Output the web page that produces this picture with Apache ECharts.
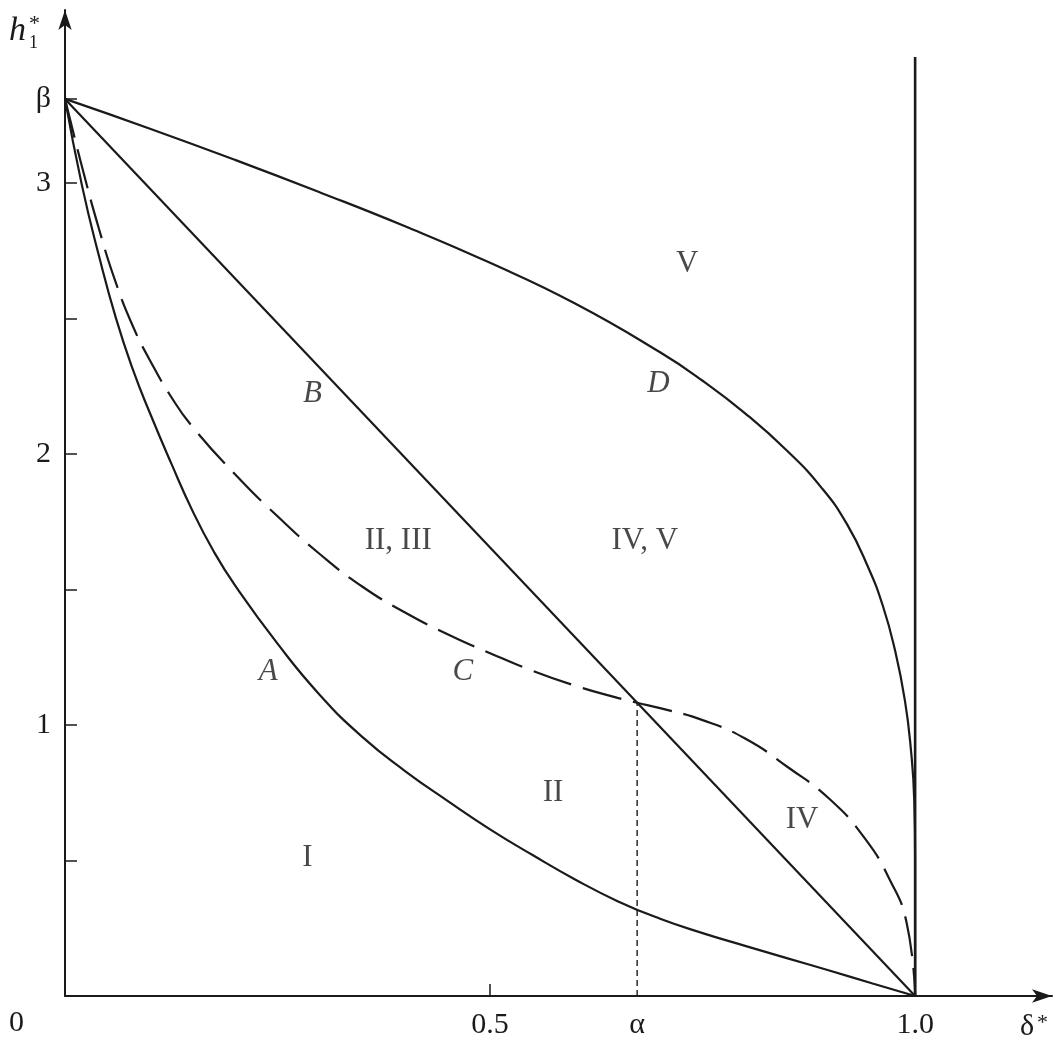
<!DOCTYPE html>
<html><head><meta charset="utf-8">
<script src="https://cdn.jsdelivr.net/npm/echarts@6/dist/echarts.min.js"></script>
<style>html,body{margin:0;padding:0;background:#fff}#c{width:1057px;height:1048px}</style>
</head><body><div id="c"></div><script>
// ---- values ----
const BETA = 3.31;       // h1* intercept
const ALPHA = 0.673;     // delta* where B and C cross
const ALPHA_Y = 1.082;   // h1* at that crossing
const WALL_TOP = 3.465;  // top of the vertical line at delta* = 1
const X_MAX = 1.161;
const Y_MAX = 3.638;

const curveA = [[0,3.31],[0.02,2.99],[0.04,2.73],[0.06,2.50],[0.08,2.31],[0.1,2.15],[0.125,1.965],[0.15,1.79],[0.175,1.64],[0.2,1.515],[0.25,1.30],[0.3,1.11],[0.35,0.955],[0.4,0.83],[0.45,0.72],[0.5,0.615],[0.55,0.52],[0.6,0.43],[0.65,0.35],[0.7,0.285],[0.75,0.232],[0.8,0.185],[0.85,0.139],[0.9,0.093],[0.95,0.046],[1,0]];
const lineB = [[0,3.31],[1,0]];
const curveC = [[0,3.31],[0.02,3.06],[0.04,2.83],[0.06,2.63],[0.08,2.47],[0.1,2.345],[0.125,2.21],[0.15,2.10],[0.2,1.925],[0.25,1.77],[0.3,1.63],[0.35,1.51],[0.4,1.415],[0.45,1.335],[0.5,1.265],[0.55,1.20],[0.6,1.145],[0.65,1.10],[0.673,1.082],[0.7,1.062],[0.75,1.018],[0.8,0.95],[0.85,0.845],[0.9,0.725],[0.94,0.585],[0.97,0.43],[0.99,0.27],[1,0]];
const curveD = [[0,3.31],[0.1,3.20],[0.2,3.085],[0.3,2.965],[0.4,2.84],[0.5,2.705],[0.6,2.555],[0.7,2.375],[0.75,2.27],[0.8,2.15],[0.85,2.01],[0.89,1.875],[0.92,1.74],[0.945,1.58],[0.962,1.44],[0.976,1.28],[0.988,1.09],[0.995,0.91],[0.999,0.72],[1,0.5],[1,0]];
const wallLine = [[1,0],[1,WALL_TOP]];
const alphaGuide = [[ALPHA,0],[ALPHA,ALPHA_Y]];

const yTickValues = [0.5,1,1.5,2,2.5,3,BETA];
const yLabelValues = [1,2,3,BETA];
const xTickValues = [0.5];
const xLabelValues = [0.5,ALPHA,1];

const regionNames = ['I','II','IV','II, III','IV, V','V'];
const regionX = [0.285,0.574,0.867,0.392,0.682,0.732];
const regionY = [0.51,0.75,0.65,1.68,1.68,2.70];
const curveNames = ['A','B','C','D'];
const curveNameX = [0.239,0.291,0.468,0.698];
const curveNameY = [1.195,2.22,1.195,2.26];

// ---- drawing ----
const INK = '#1a1a1a';
const SERIF = "'Liberation Serif','DejaVu Serif','Times New Roman',serif";
const chart = echarts.init(document.getElementById('c'), null, {renderer:'canvas'});

function lineSeries(data, type, width, smooth){
  return {type:'line', data:data, showSymbol:false, smooth:smooth, silent:true,
    lineStyle:{color:INK, width:width, type:type}, z:3};
}
function textSeries(names, xs, ys, italic){
  return {type:'scatter', symbolSize:0, silent:true, z:4,
    data:names.map((n,i)=>({name:n, value:[xs[i], ys[i]]})),
    label:{show:true, position:'inside', formatter:'{b}', color:INK,
      fontFamily:SERIF, fontSize:31, fontStyle: italic ? 'italic' : 'normal'}};
}
function fmtX(v){ if (Math.abs(v-ALPHA)<1e-9) return 'α'; if (v===1) return '1.0'; return String(v); }
function fmtY(v){ if (Math.abs(v-BETA)<1e-9) return 'β'; return String(v); }

chart.setOption({
  animation:false,
  backgroundColor:'#fff',
  grid:{left:65, right:5, top:10, bottom:52, containLabel:false, outerBoundsMode:'none'},
  xAxis:{type:'value', min:0, max:X_MAX, splitLine:{show:false},
    axisLine:{show:true, onZero:false, symbol:['none','arrow'], symbolSize:[10,20], lineStyle:{color:INK, width:2}},
    axisTick:{show:true, inside:true, length:12, customValues:xTickValues, lineStyle:{color:INK, width:1.5}},
    axisLabel:{show:true, customValues:xLabelValues, formatter:fmtX, margin:14, color:INK, fontFamily:SERIF, fontSize:30}},
  yAxis:{type:'value', min:0, max:Y_MAX, splitLine:{show:false},
    axisLine:{show:true, onZero:false, symbol:['none','arrow'], symbolSize:[10,20], lineStyle:{color:INK, width:2}},
    axisTick:{show:true, inside:true, length:12, customValues:yTickValues, lineStyle:{color:INK, width:1.5}},
    axisLabel:{show:true, customValues:yLabelValues, formatter:fmtY, margin:14, color:INK, fontFamily:SERIF, fontSize:30}},
  graphic:[
    {type:'text', left:9, top:14, style:{text:'h', font:"italic 34px "+SERIF, fill:INK}},
    {type:'text', left:29, top:13, style:{text:'*', font:"22px "+SERIF, fill:INK}},
    {type:'text', left:29, top:34, style:{text:'1', font:"18px "+SERIF, fill:INK}},
    {type:'text', left:9, top:1008, style:{text:'0', font:"30px "+SERIF, fill:INK}},
    {type:'text', left:1020, top:1012, style:{text:'δ', font:"30px "+SERIF, fill:INK}},
    {type:'text', left:1037, top:1012, style:{text:'*', font:"22px "+SERIF, fill:INK}}
  ],
  series:[
    lineSeries(curveA,'solid',2.2,0.5),
    lineSeries(lineB,'solid',2.2,false),
    lineSeries(curveC,[40,12],2.2,0.5),
    lineSeries(curveD,'solid',2.2,0.5),
    lineSeries(wallLine,'solid',2.6,false),
    lineSeries(alphaGuide,[6,4],1.4,false),
    textSeries(regionNames, regionX, regionY, false),
    textSeries(curveNames, curveNameX, curveNameY, true)
  ]
});
</script></body></html>
